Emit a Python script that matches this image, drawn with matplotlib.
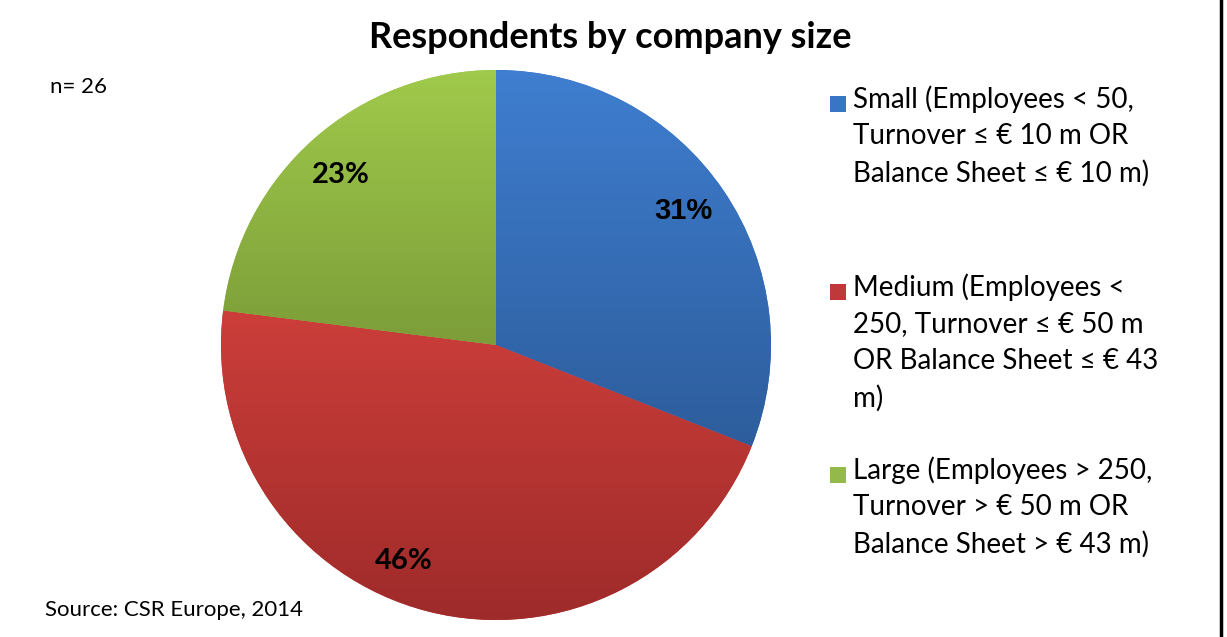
import numpy as np
import matplotlib.pyplot as plt
from matplotlib.patches import Rectangle
from matplotlib.lines import Line2D
from matplotlib.colors import LinearSegmentedColormap

# Survey respondents by company size (n = 26)
sizes = ['Small', 'Medium', 'Large']
shares = [31, 46, 23]
legend_labels = [
    'Small (Employees < 50,\nTurnover \u2264 \u20ac 10 m OR\nBalance Sheet \u2264 \u20ac 10 m)',
    'Medium (Employees <\n250, Turnover \u2264 \u20ac 50 m\nOR Balance Sheet \u2264 \u20ac 43\nm)',
    'Large (Employees > 250,\nTurnover > \u20ac 50 m OR\nBalance Sheet > \u20ac 43 m)',
]
n_respondents = 26

# light (top) and dark (bottom) shade for each slice
top_colors = ['#3f7ed0', '#cc3e3a', '#a0ca4b']
bottom_colors = ['#2d5d9c', '#9e2b2a', '#7c9d39']
flat_colors = ['#3a74c4', '#c0393a', '#93b94a']

TEXT_FONT = ['Lato', 'DejaVu Sans']

# percent label placement: angular nudge (degrees) and font per slice
label_nudge = [2.0, -9.0, 0.5]
label_fonts = ['Liberation Sans', 'Lato', 'Lato']
label_sizes = [21, 21, 21]

fig = plt.figure(figsize=(12.27, 6.37), dpi=100)
fig.patch.set_facecolor('white')

ax = fig.add_axes([221 / 1227, 17 / 637, 550 / 1227, 550 / 637])
wedges, texts = ax.pie(
    shares, colors=flat_colors, startangle=90, counterclock=False,
    wedgeprops=dict(linewidth=0),
)
ax.set_xlim(-1, 1)
ax.set_ylim(-1, 1)
ax.set_aspect('equal')
ax.axis('off')

# vertical gradient fill inside each slice, spanning the slice's own height
grad = np.linspace(0, 1, 256).reshape(-1, 1)
for w, c_top, c_bot in zip(wedges, top_colors, bottom_colors):
    ext = w.get_path().get_extents()
    cmap = LinearSegmentedColormap.from_list('shade', [c_top, c_bot])
    img = ax.imshow(grad, cmap=cmap, extent=(-1, 1, ext.y0, ext.y1), origin='upper',
                    aspect='auto', zorder=w.get_zorder() + 0.1, interpolation='bilinear')
    img.set_clip_path(w)
ax.set_xlim(-1, 1)
ax.set_ylim(-1, 1)

# percentage labels inside the slices
for w, val, nudge, fam, fs in zip(wedges, shares, label_nudge, label_fonts, label_sizes):
    ang = np.deg2rad((w.theta1 + w.theta2) / 2 + nudge)
    ax.text(0.845 * np.cos(ang), 0.845 * np.sin(ang), f'{val}%', ha='center',
            va='center_baseline', fontsize=fs, fontweight='bold', family=fam,
            color='black', zorder=5)

fig.text(0.497, 1 - 38 / 637, 'Respondents by company size', ha='center', va='center',
         fontsize=26, fontweight='bold', family=TEXT_FONT)
fig.text(50 / 1227, 1 - 87 / 637, f'n= {n_respondents}', ha='left', va='center',
         fontsize=16, family=TEXT_FONT)
fig.text(45 / 1227, 1 - 610 / 637, 'Source: CSR Europe, 2014', ha='left', va='center',
         fontsize=16, family=TEXT_FONT)

# legend entries placed by hand down the right side
entry_centers = [99, 287, 470]
for label, color, y_c in zip(legend_labels, flat_colors, entry_centers):
    fig.patches.append(Rectangle((830 / 1227, 1 - (y_c + 13) / 637), 16 / 1227, 16 / 637,
                                 transform=fig.transFigure, facecolor=color, edgecolor='none'))
    fig.text(853 / 1227, 1 - (y_c - 14) / 637, label, ha='left', va='top',
             fontsize=20, family=TEXT_FONT, linespacing=1.5)

# frame line on the right edge
fig.lines.append(Line2D([1221 / 1227, 1221 / 1227], [0, 1], transform=fig.transFigure,
                        color='black', linewidth=2.5))

fig.savefig('out.png', dpi=100, facecolor='white')
